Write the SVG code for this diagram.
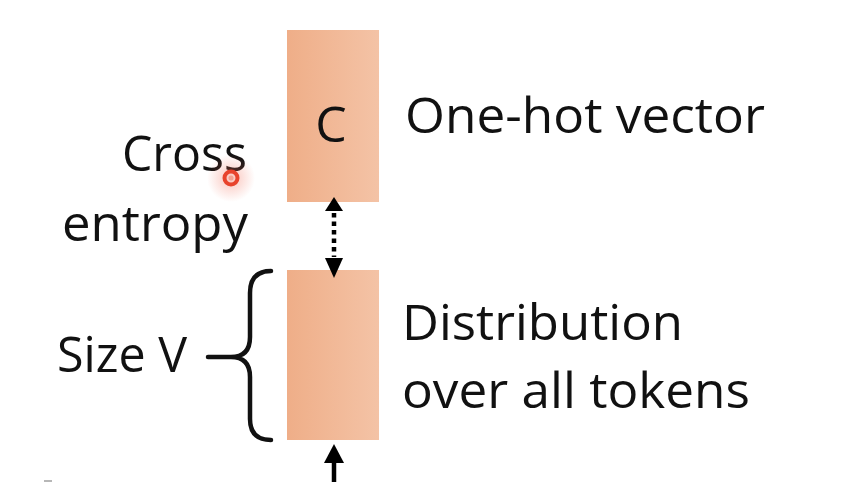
<svg xmlns="http://www.w3.org/2000/svg" width="854" height="482" viewBox="0 0 854 482">
<style>
.t{font-family:"Open Sans","Noto Sans","Liberation Sans",sans-serif;fill:#111;font-size:50px}
.box{fill:url(#g)}
.br{fill:none;stroke:#111;stroke-width:4.5;stroke-linecap:round;stroke-linejoin:round}
.shaft{stroke:#000;stroke-width:4.5}
.head{fill:#000}
</style>
<defs>
<linearGradient id="g" x1="0" y1="0" x2="1" y2="0">
<stop offset="0" stop-color="#EFAE88"/>
<stop offset="1" stop-color="#F4C3A6"/>
</linearGradient>
<radialGradient id="glow">
<stop offset="0" stop-color="#F26A55" stop-opacity="0.4"/>
<stop offset="1" stop-color="#F26A55" stop-opacity="0"/>
</radialGradient>
</defs>
<rect width="854" height="482" fill="#fff"/>
<g id="onehot">
<rect class="box" x="287" y="30" width="92" height="172"/>
<text class="t" x="331" y="142" text-anchor="middle" font-size="42">C</text>
<text class="t" x="405" y="133" textLength="360" lengthAdjust="spacingAndGlyphs">One-hot vector</text>
</g>
<g id="distribution">
<rect class="box" x="287" y="270" width="92" height="170"/>
<text class="t" x="402" y="340" textLength="281" lengthAdjust="spacingAndGlyphs">Distribution</text>
<text class="t" x="402" y="408" textLength="348" lengthAdjust="spacingAndGlyphs">over all tokens</text>
</g>
<g id="crossentropy">
<text class="t" x="122" y="171" textLength="125" lengthAdjust="spacingAndGlyphs">Cross</text>
<text class="t" x="62" y="241" textLength="186" lengthAdjust="spacingAndGlyphs">entropy</text>
</g>
<g id="sizev">
<text class="t" x="57" y="372" textLength="130" lengthAdjust="spacingAndGlyphs">Size V</text>
<path class="br" d="M271,271 Q250,271 250,293 L250,337 Q250,357 231,357 L208,357 M231,357 Q250,357 250,377 L250,419 Q250,440 271,440"/>
</g>
<g id="connectors">
<polygon class="head" points="334,197 325,211 343,211"/>
<line class="shaft" x1="334" y1="213" x2="334" y2="257" stroke-dasharray="4.5,4"/>
<polygon class="head" points="334,278 325,258 343,258"/>
<polygon class="head" points="334,444 324,463 344,463"/>
<line class="shaft" x1="334" y1="460" x2="334" y2="482"/>
</g>
<g id="cursor">
<circle cx="231" cy="178" r="24" fill="url(#glow)"/>
<circle cx="231" cy="178" r="6.5" fill="none" stroke="#E8432C" stroke-width="4"/>
<circle cx="231" cy="178" r="2.5" fill="#F3A08F"/>
</g>
<line x1="44" y1="481" x2="52" y2="481" stroke="#888" stroke-width="2" opacity="0.6"/>
</svg>
